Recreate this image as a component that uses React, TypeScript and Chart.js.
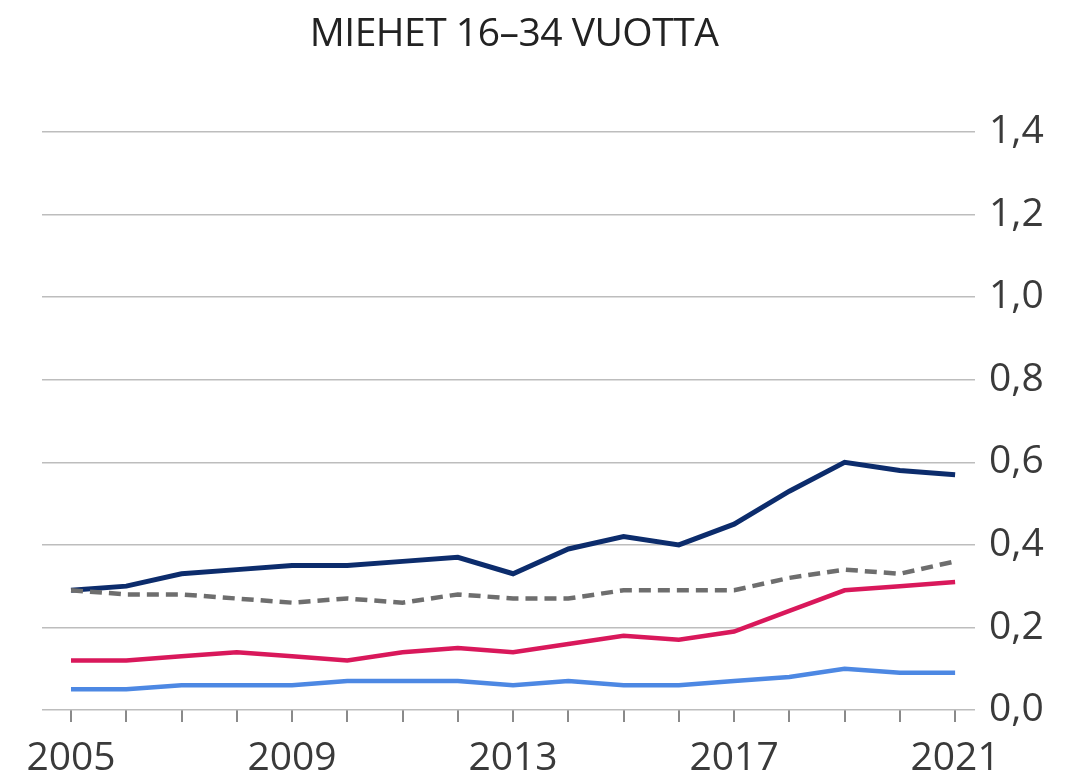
import React, { useEffect, useRef } from "react";
import { Chart, registerables } from "chart.js";

Chart.register(...registerables);

const TITLE = "MIEHET 16–34 VUOTTA";
const years = [2005, 2006, 2007, 2008, 2009, 2010, 2011, 2012, 2013, 2014, 2015, 2016, 2017, 2018, 2019, 2020, 2021];
const labeledYears = [2005, 2009, 2013, 2017, 2021];
const navySeries = [0.29, 0.30, 0.33, 0.34, 0.35, 0.35, 0.36, 0.37, 0.33, 0.39, 0.42, 0.40, 0.45, 0.53, 0.60, 0.58, 0.57];
const graySeries = [0.29, 0.28, 0.28, 0.27, 0.26, 0.27, 0.26, 0.28, 0.27, 0.27, 0.29, 0.29, 0.29, 0.32, 0.34, 0.33, 0.36];
const pinkSeries = [0.12, 0.12, 0.13, 0.14, 0.13, 0.12, 0.14, 0.15, 0.14, 0.16, 0.18, 0.17, 0.19, 0.24, 0.29, 0.30, 0.31];
const blueSeries = [0.05, 0.05, 0.06, 0.06, 0.06, 0.07, 0.07, 0.07, 0.06, 0.07, 0.06, 0.06, 0.07, 0.08, 0.10, 0.09, 0.09];

const W = 1073;
const H = 777;
const FONT = "'Open Sans', 'DejaVu Sans', sans-serif";

export default function App() {
  const ref = useRef<HTMLCanvasElement | null>(null);

  useEffect(() => {
    if (!ref.current) return;
    const pts = (arr: number[]) => years.map((y, i) => ({ x: y, y: arr[i] }));
    const chart = new Chart(ref.current, {
      type: "line",
      data: {
        datasets: [
          { data: pts(blueSeries), borderColor: "#4d88e3", borderWidth: 4.5, pointRadius: 0, tension: 0 },
          { data: pts(pinkSeries), borderColor: "#d9185b", borderWidth: 4.5, pointRadius: 0, tension: 0 },
          { data: pts(graySeries), borderColor: "#6e6e6e", borderWidth: 4.5, borderDash: [12, 7], pointRadius: 0, tension: 0 },
          { data: pts(navySeries), borderColor: "#0c2c6c", borderWidth: 5, pointRadius: 0, tension: 0 },
        ],
      },
      options: {
        animation: false,
        responsive: false,
        maintainAspectRatio: false,
        layout: { padding: { left: 42, top: 132, right: 0, bottom: 0 } },
        plugins: { legend: { display: false }, tooltip: { enabled: false }, title: { display: false } },
        scales: {
          x: {
            type: "linear",
            min: 2004.475,
            max: 2021.36,
            afterBuildTicks: (s: any) => {
              s.ticks = years.map((v) => ({ value: v }));
            },
            afterFit: (s: any) => {
              s.height = H - 710;
            },
            border: { display: false },
            grid: { drawOnChartArea: false, drawTicks: true, tickLength: 12, color: "#8a8a8a", lineWidth: 2 },
            ticks: {
              autoSkip: false,
              maxRotation: 0,
              padding: 13,
              color: "#3a3a3a",
              font: { family: FONT, size: 39 },
              callback: (v: any) => (labeledYears.includes(Number(v)) ? String(v) : ""),
            },
          },
          y: {
            position: "right",
            min: 0,
            max: 1.4,
            afterFit: (s: any) => {
              s.width = W - 975;
            },
            border: { display: false },
            grid: { drawTicks: false, color: "#bdbdbd", lineWidth: 1.5 },
            ticks: {
              stepSize: 0.2,
              padding: 14,
              color: "#3a3a3a",
              font: { family: FONT, size: 39 },
              callback: (v: any) => Number(v).toFixed(1).replace(".", ","),
            },
          },
        },
      },
    });
    return () => chart.destroy();
  }, []);

  return (
    <div style={{ position: "fixed", left: 0, top: 0, width: W, height: H, overflow: "hidden", background: "#fff" }}>
      <div
        style={{
          position: "absolute",
          left: 0,
          width: 1028,
          top: 4,
          textAlign: "center",
          fontFamily: FONT,
          fontSize: 39,
          color: "#222",
          letterSpacing: -0.5,
          whiteSpace: "nowrap",
        }}
      >
        {TITLE}
      </div>
      <canvas ref={ref} width={W} height={H} style={{ display: "block" }} />
    </div>
  );
}
